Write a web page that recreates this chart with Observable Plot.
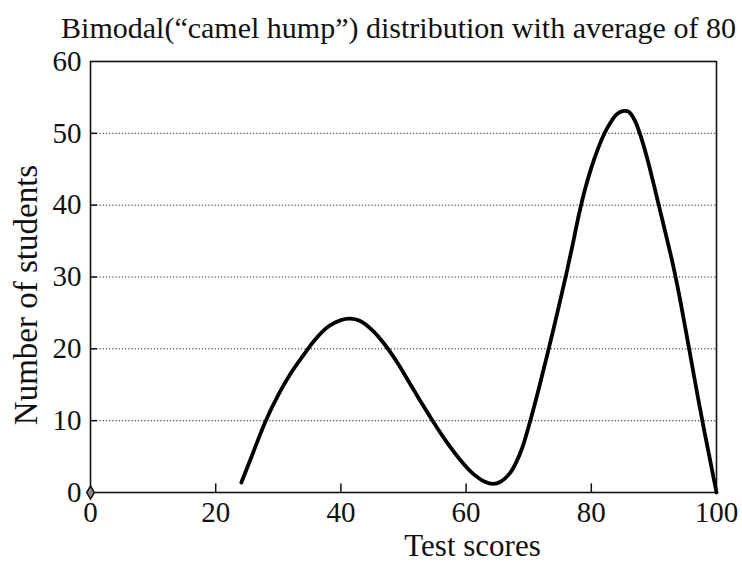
<!DOCTYPE html>
<html>
<head>
<meta charset="utf-8">
<script src="https://cdn.jsdelivr.net/npm/d3@7"></script>
<script src="https://cdn.jsdelivr.net/npm/@observablehq/plot@0.6"></script>
<style>
  html, body { margin: 0; padding: 0; background: #fff; }
  #title { width: 742px; height: 44px; font-family: "Liberation Serif", serif; font-size: 30px; color: #111;
           text-align: center; line-height: 30px; padding-top: 13px; padding-left: 55px; box-sizing: border-box; white-space: nowrap; overflow: visible; }
</style>
</head>
<body>
<div id="title">Bimodal(“camel hump”) distribution with average of 80</div>
<div id="chart"></div>
<script>
const scores   = [24.1, 26,  28,   30,   32,   34,   36,   38,   40,   41.5, 43,   45,   47,   49,   51,   53,   55,  57,  59,  61,  63,  64.3, 65.5, 67,  68,  69,  70,  71,   72,   73,   74,   75,   76,   77,   78,   79,   80,   81,   82,   83,   84,   85,   86,   87,   88,   89,   90,   91,   92,   93,   94,   95,   96,   97,   98,  99,  100];
const students = [1.4,  5.6, 10.0, 13.6, 16.6, 19.1, 21.4, 23.1, 24.0, 24.2, 23.9, 22.6, 20.6, 18.1, 15.2, 12.3, 9.5, 6.9, 4.6, 2.7, 1.5, 1.2,  1.5,  2.7, 4.2, 6.3, 9.2, 12.4, 15.8, 19.3, 22.9, 26.6, 30.4, 34.4, 38.6, 42.2, 45.2, 47.7, 49.8, 51.4, 52.6, 53.1, 53.0, 51.7, 49.3, 46.3, 42.8, 39.2, 35.6, 31.9, 27.7, 23.0, 18.2, 13.4, 8.8, 4.4, 0];
const xTicks = [0, 20, 40, 60, 80, 100];
const yTicks = [0, 10, 20, 30, 40, 50, 60];
const gridLines = [10, 20, 30, 40, 50];
const innerXTicks = [20, 40, 60, 80];
const xLabel = "Test scores";
const yLabel = "Number of students";

const data = scores.map((s, i) => ({score: s, n: students[i]}));
const font = "Liberation Serif, serif";

const chart = Plot.plot({
  width: 742,
  height: 518,
  marginTop: 17,
  marginBottom: 70,
  marginLeft: 90,
  marginRight: 26,
  style: {fontFamily: font, fontSize: "29px", color: "#111", background: "#fff", overflow: "visible"},
  x: {domain: [0, 100], ticks: xTicks},
  y: {domain: [0, 60], ticks: yTicks},
  marks: [
    Plot.ruleY(gridLines, {stroke: "#222", strokeWidth: 1, strokeDasharray: "1.2,2"}),
    Plot.ruleX(innerXTicks, {y1: 0, y2: 1.2, stroke: "#111", strokeWidth: 1.5}),
    Plot.ruleY(gridLines, {x1: 0, x2: 1.1, stroke: "#111", strokeWidth: 1.5}),
    Plot.frame({stroke: "#111", strokeWidth: 1.6}),
    Plot.axisX({ticks: xTicks, tickSize: 0, tickPadding: 9, fontSize: 29, label: null}),
    Plot.axisY({ticks: yTicks, tickSize: 0, tickPadding: 9, fontSize: 29, label: null}),
    Plot.line(data, {x: "score", y: "n", curve: "catmull-rom", stroke: "#000", strokeWidth: 3.8, strokeLinecap: "round"}),
    Plot.dot([{score: 0, n: 0}], {x: "score", y: "n", symbol: "diamond", r: 4, fill: "#888", stroke: "#111", strokeWidth: 1.5}),
    Plot.text([xLabel], {frameAnchor: "bottom", textAnchor: "middle", lineAnchor: "middle", dx: 69, dy: 54, fontSize: 31, fill: "#111"}),
    Plot.text([yLabel], {frameAnchor: "left", textAnchor: "middle", lineAnchor: "middle", rotate: -90, dx: -64, dy: 18, fontSize: 33, fill: "#111"})
  ]
});
document.getElementById("chart").appendChild(chart);
</script>
</body>
</html>
